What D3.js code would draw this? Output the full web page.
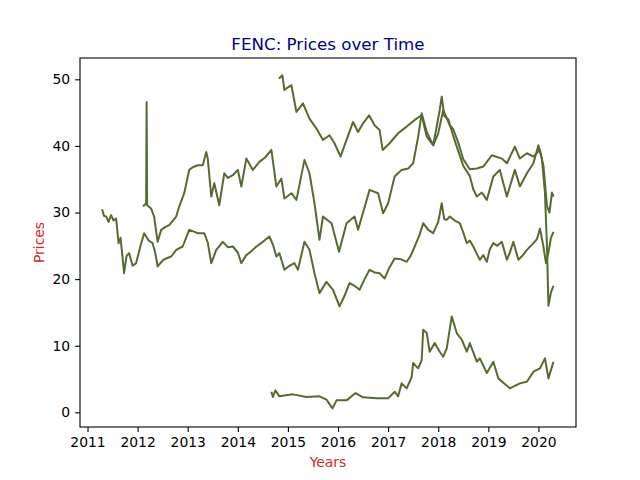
<!DOCTYPE html>
<html>
  <head>
    <meta charset="utf-8">
    <script src="https://d3js.org/d3.v7.min.js"></script>
    <style>
      html, body { margin: 0; padding: 0; background: #fff; overflow: hidden; }
      #chart { width: 640px; height: 480px; }
      svg { display: block; }
      text { font-family: "DejaVu Sans", sans-serif; }
      .tick text { font-size: 13.9px; fill: #000; }
      .axis-label { font-size: 13.9px; fill: #d62728; }
      .title { font-size: 16.7px; fill: #00008b; }
    </style>
  </head>
  <body>

    <div id="chart"></div>

    <script>

      // values: [decimal year, price]
      const lowerSeries = [
        [2011.29,30.5],[2011.33,29.5],[2011.37,29.4],[2011.42,28.6],[2011.47,29.6],[2011.52,28.8],
        [2011.57,29.1],[2011.62,25.4],[2011.66,26.2],[2011.73,20.9],[2011.78,23.5],[2011.83,23.9],
        [2011.9,22.0],[2011.97,22.4],[2012.05,24.8],[2012.13,26.9],[2012.22,25.8],[2012.3,25.4],
        [2012.35,24.0],[2012.4,21.9],[2012.5,22.8],[2012.57,23.1],[2012.67,23.4],[2012.77,24.4],
        [2012.9,24.9],[2013.03,27.4],[2013.2,26.9],[2013.33,26.9],[2013.4,25.5],[2013.47,22.4],
        [2013.57,24.4],[2013.7,25.6],[2013.8,24.8],[2013.9,24.9],[2014.0,24.0],[2014.07,22.4],
        [2014.17,23.6],[2014.27,24.2],[2014.37,24.9],[2014.5,25.6],[2014.63,26.4],[2014.7,25.2],
        [2014.77,23.4],[2014.83,23.9],[2014.93,21.4],[2015.03,22.0],[2015.13,22.4],[2015.2,21.4],
        [2015.33,25.6],[2015.43,24.4],[2015.53,20.9],[2015.63,17.9],[2015.77,19.6],[2015.9,18.4],
        [2016.03,15.9],[2016.13,17.5],[2016.23,19.4],[2016.33,19.0],[2016.43,18.4],[2016.53,20.0],
        [2016.63,21.4],[2016.73,21.0],[2016.83,20.9],[2016.93,20.1],[2017.03,21.8],[2017.13,23.1],
        [2017.25,23.0],[2017.37,22.6],[2017.45,23.5],[2017.53,24.9],[2017.62,26.5],[2017.7,28.4],
        [2017.8,27.4],[2017.9,26.9],[2018.0,28.6],[2018.07,31.4],[2018.12,29.0],[2018.17,28.9],
        [2018.23,29.4],[2018.33,28.8],[2018.43,28.4],[2018.5,27.0],[2018.57,25.4],[2018.63,25.8],
        [2018.7,24.9],[2018.77,23.8],[2018.83,22.9],[2018.9,23.6],[2018.97,22.6],[2019.03,24.5],
        [2019.1,25.4],[2019.18,25.0],[2019.27,25.6],[2019.37,22.9],[2019.43,24.0],[2019.5,25.6],
        [2019.6,22.9],[2019.68,23.5],[2019.77,24.4],[2019.9,25.4],[2019.97,26.0],[2020.03,27.6],
        [2020.1,24.9],[2020.15,22.4],[2020.2,24.0],[2020.25,26.2],[2020.3,27.1]
      ];

      const middleSeries = [
        [2012.11,30.9],[2012.17,31.4],[2012.18,46.6],[2012.19,31.1],[2012.27,30.6],[2012.33,29.4],
        [2012.4,25.6],[2012.47,27.4],[2012.55,27.8],[2012.63,28.1],[2012.77,29.4],[2012.83,30.9],
        [2012.93,32.9],[2013.03,36.4],[2013.1,36.8],[2013.2,37.1],[2013.3,37.1],[2013.37,39.1],
        [2013.4,38.1],[2013.47,32.4],[2013.53,34.4],[2013.63,31.1],[2013.73,35.9],[2013.8,35.2],
        [2013.9,35.6],[2014.0,36.4],[2014.07,33.9],[2014.17,38.1],[2014.3,36.4],[2014.43,37.6],
        [2014.55,38.3],[2014.67,39.4],[2014.77,33.9],[2014.87,35.1],[2014.93,32.1],[2015.07,32.9],
        [2015.17,31.9],[2015.33,37.9],[2015.43,35.9],[2015.53,31.4],[2015.63,25.9],[2015.7,29.4],
        [2015.87,28.4],[2016.02,24.1],[2016.17,28.4],[2016.33,29.4],[2016.4,27.4],[2016.5,30.0],
        [2016.63,33.4],[2016.8,32.9],[2016.9,29.9],[2017.0,31.4],[2017.13,35.4],[2017.27,36.4],
        [2017.4,36.6],[2017.5,37.4],[2017.6,41.4],[2017.67,44.9],[2017.77,42.1],[2017.9,40.1],
        [2018.03,45.4],[2018.07,47.4],[2018.12,44.5],[2018.2,44.0],[2018.3,41.5],[2018.37,39.9],
        [2018.5,37.0],[2018.63,35.5],[2018.7,33.5],[2018.77,32.4],[2018.87,33.0],[2018.97,31.9],
        [2019.1,35.4],[2019.23,36.4],[2019.37,32.4],[2019.53,36.4],[2019.63,33.9],[2019.77,35.9],
        [2019.9,37.4],[2020.0,40.1],[2020.07,38.0],[2020.13,33.0],[2020.17,25.0],[2020.2,16.0],
        [2020.25,18.0],[2020.3,19.0]
      ];

      const upperSeries = [
        [2014.82,50.1],[2014.89,50.6],[2014.93,48.4],[2015.0,48.8],[2015.07,49.1],[2015.17,45.1],
        [2015.3,46.4],[2015.43,44.1],[2015.57,42.6],[2015.7,40.9],[2015.83,41.6],[2015.93,40.4],
        [2016.05,38.4],[2016.17,40.9],[2016.3,43.6],[2016.4,42.1],[2016.5,43.4],[2016.62,44.6],
        [2016.73,43.1],[2016.83,42.4],[2016.89,39.4],[2017.03,40.4],[2017.2,41.9],[2017.37,42.9],
        [2017.53,43.9],[2017.67,44.6],[2017.77,41.4],[2017.9,40.1],[2018.0,41.9],[2018.1,45.4],
        [2018.23,43.1],[2018.3,42.5],[2018.4,40.5],[2018.5,38.0],[2018.63,36.5],[2018.77,36.6],
        [2018.9,36.9],[2019.07,38.6],[2019.27,38.1],[2019.37,37.4],[2019.53,39.9],[2019.63,38.1],
        [2019.77,38.9],[2019.9,38.4],[2020.03,39.4],[2020.1,37.0],[2020.17,31.0],[2020.22,30.0],
        [2020.27,33.0],[2020.3,32.4]
      ];

      const bottomSeries = [
        [2014.67,3.1],[2014.7,2.3],[2014.75,3.3],[2014.83,2.4],[2015.1,2.7],[2015.37,2.3],
        [2015.63,2.4],[2015.77,1.9],[2015.89,0.6],[2015.97,1.8],[2016.17,1.8],[2016.35,2.9],
        [2016.5,2.25],[2016.77,2.1],[2017.0,2.1],[2017.13,3.1],[2017.2,2.4],[2017.27,4.35],
        [2017.37,3.6],[2017.47,5.3],[2017.5,7.4],[2017.6,6.6],[2017.67,7.85],[2017.7,12.4],
        [2017.77,11.9],[2017.83,9.1],[2017.93,10.4],[2018.03,9.1],[2018.1,8.35],[2018.17,9.6],
        [2018.27,14.4],[2018.37,11.9],[2018.47,10.9],[2018.57,9.1],[2018.63,10.4],[2018.77,7.6],
        [2018.83,8.1],[2018.97,5.9],[2019.1,7.6],[2019.2,5.1],[2019.43,3.6],[2019.63,4.35],
        [2019.77,4.6],[2019.9,6.1],[2020.03,6.6],[2020.13,8.1],[2020.2,5.1],[2020.3,7.6]
      ];

      const yearTicks = [2011, 2012, 2013, 2014, 2015, 2016, 2017, 2018, 2019, 2020];
      const priceTicks = [0, 10, 20, 30, 40, 50];

      const width = 640;
      const height = 480;
      const margin = { left: 80, right: 64, top: 58, bottom: 53 };
      const innerWidth = width - margin.left - margin.right;
      const innerHeight = height - margin.top - margin.bottom;

      const svg = d3.select('#chart').append('svg')
          .attr('width', width)
          .attr('height', height);

      const g = svg.append('g')
          .attr('transform', `translate(${margin.left},${margin.top})`);

      const xScale = d3.scaleLinear()
        .domain([2010.85, 2020.75])
        .range([0, innerWidth]);

      const yScale = d3.scaleLinear()
        .domain([-2.2, 53.2])
        .range([innerHeight, 0]);

      const line = d3.line()
        .x(d => xScale(d[0]))
        .y(d => yScale(d[1]));

      // all four series share one colour
      [lowerSeries, middleSeries, upperSeries, bottomSeries].forEach(s => {
        g.append('path')
          .datum(s)
          .attr('fill', 'none')
          .attr('stroke', '#556b2f')
          .attr('stroke-width', 2)
          .attr('stroke-linejoin', 'round')
          .attr('d', line);
      });

      const xAxis = d3.axisBottom(xScale)
        .tickValues(yearTicks)
        .tickFormat(d3.format('d'))
        .tickSize(4.9)
        .tickPadding(4.9);

      const yAxis = d3.axisLeft(yScale)
        .tickValues(priceTicks)
        .tickSize(4.9)
        .tickPadding(4.9);

      const xAxisG = g.append('g')
          .attr('transform', `translate(0, ${innerHeight})`)
          .call(xAxis);
      const yAxisG = g.append('g').call(yAxis);

      [xAxisG, yAxisG].forEach(a => {
        a.select('.domain').remove();
        a.attr('font-family', null).attr('font-size', null);
        a.selectAll('.tick line').attr('stroke', '#000').attr('stroke-width', 1.1);
      });

      // frame round the plot area
      g.append('rect')
          .attr('width', innerWidth)
          .attr('height', innerHeight)
          .attr('fill', 'none')
          .attr('stroke', '#000')
          .attr('stroke-width', 1.1);

      svg.append('text')
          .attr('class', 'title')
          .attr('x', margin.left + innerWidth / 2)
          .attr('y', 49.7)
          .attr('text-anchor', 'middle')
          .text('FENC: Prices over Time');

      svg.append('text')
          .attr('class', 'axis-label')
          .attr('x', margin.left + innerWidth / 2)
          .attr('y', 467)
          .attr('text-anchor', 'middle')
          .text('Years');

      svg.append('text')
          .attr('class', 'axis-label')
          .attr('transform', `translate(44, ${margin.top + innerHeight / 2}) rotate(-90)`)
          .attr('text-anchor', 'middle')
          .text('Prices');

    </script>
  </body>
</html>
